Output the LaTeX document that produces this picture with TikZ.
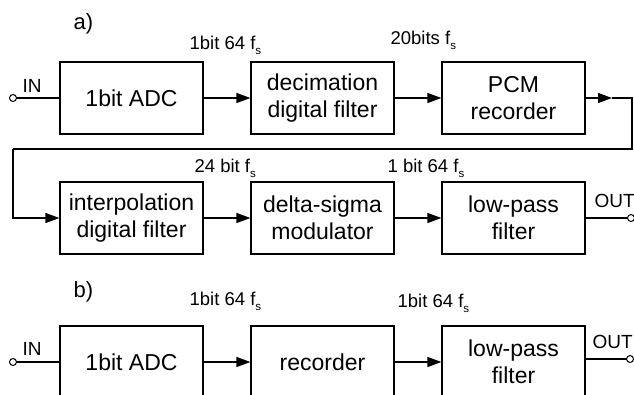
\documentclass[tikz,border=0pt]{standalone}
\usepackage{fontspec}
\setmainfont{Liberation Sans}
\usetikzlibrary{arrows.meta}
\newcommand\lowsub[1]{\raisebox{-5pt}{\fontsize{11.5}{11.5}\selectfont #1}}
\begin{document}
\begin{tikzpicture}[x=1pt,y=-1pt, line width=1.2pt,
  blk/.style={draw, minimum width=143pt, minimum height=72pt, inner sep=0pt, align=center, font=\fontsize{23}{27}\selectfont},
  lbl/.style={anchor=base west, inner sep=0pt, font=\fontsize{18.5}{18.5}\selectfont},
  iolbl/.style={anchor=base west, inner sep=0pt, font=\fontsize{19}{19}\selectfont},
  ttl/.style={anchor=base west, inner sep=0pt, font=\fontsize{22}{22}\selectfont},
  arr/.style={-{Triangle[length=14pt,width=10pt]}},
  term/.style={circle, draw, minimum size=7pt, inner sep=0pt, line width=1pt, fill=white}]
\useasboundingbox (0,0) rectangle (634,394);
\clip (0,0) rectangle (634,394);
\fill[white] (0,0) rectangle (634,394);
% a) first row
\node[blk] (adc) at (131.5,98) {1bit ADC};
\node[blk] (dec) at (322.5,98) {decimation\\digital filter};
\node[blk] (pcm) at (513.5,98) {PCM\\recorder};
% a) second row
\node[blk] (int) at (131.5,218) {interpolation\\digital filter};
\node[blk] (dsm) at (322.5,218) {delta-sigma\\modulator};
\node[blk] (lpf) at (513.5,218) {low-pass\\filter};
% b)
\node[blk] (adcb) at (131.5,362) {1bit ADC};
\node[blk] (rec) at (322.5,362) {recorder};
\node[blk] (lpfb) at (513.5,362) {low-pass\\filter};
% connectors
\coordinate (fbTip) at (612,98);
\coordinate (fb1) at (632,149);
\coordinate (fb2) at (13,149);
\coordinate (outBl) at (585,359);
\draw (13,98) -- (adc);
\draw[arr] (adc) -- (dec);
\draw[arr] (dec) -- (pcm);
\draw[arr] (pcm) -- (fbTip);
\draw (fbTip) -| (fb1) -- (fb2);
\draw[arr] (fb2) |- (int);
\draw[arr] (int) -- (dsm);
\draw[arr] (dsm) -- (lpf);
\draw (lpf) -- (631,218);
\draw (13,362) -- (adcb);
\draw[arr] (adcb) -- (rec);
\draw[arr] (rec) -- (lpfb);
\draw (outBl) -- (630,359);
% terminals
\node[term] (inA) at (13,98) {};
\node[term] (outA) at (631,218) {};
\node[term] (inB) at (13,362) {};
\node[term] (outB) at (630,359) {};
% labels
\node[ttl] (ta) at (73,29) {a)};
\node[ttl] (tb) at (73,297) {b)};
\node[lbl] (l1) at (189,49) {1bit 64 f\lowsub{s}};
\node[lbl] (l2) at (390,44) {20bits f\lowsub{s}};
\node[lbl] (l3) at (194,172) {24 bit f\lowsub{s}};
\node[lbl] (l4) at (387,172) {1 bit 64 f\lowsub{s}};
\node[lbl] (l5) at (189,305) {1bit 64 f\lowsub{s}};
\node[lbl] (l6) at (397,307) {1bit 64 f\lowsub{s}};
\node[iolbl] (inAl) at (22,92) {IN};
\node[iolbl] (inBl) at (22,355) {IN};
\node[iolbl] (outAl) at (594,207) {OUT};
\node[iolbl] (outBl2) at (592,348) {OUT};
\end{tikzpicture}
\end{document}
